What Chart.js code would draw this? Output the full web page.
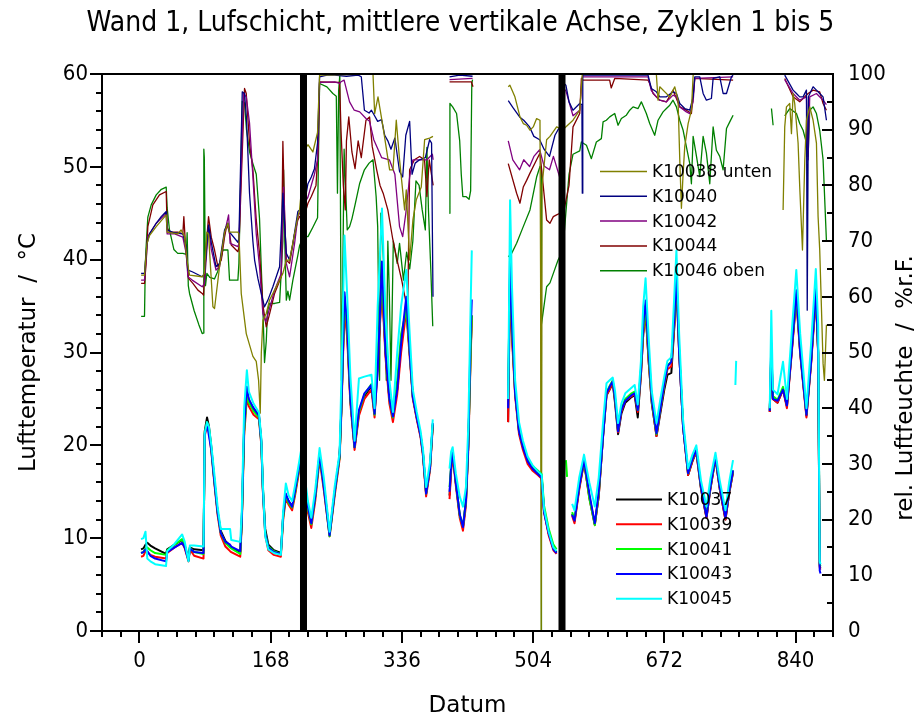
<!DOCTYPE html>
<html>
<head>
<meta charset="utf-8">
<script src="https://cdn.jsdelivr.net/npm/chart.js@4.4.1/dist/chart.umd.min.js"></script>
<style>
  html, body { margin: 0; padding: 0; background: #fff; }
  #c { display: block; }
</style>
</head>
<body>
<canvas id="c" width="921" height="721"></canvas>
<script>
// ---------------------------------------------------------------------------
// Wall 1, air layer, middle vertical axis – cycles 1 to 5
// Time axis in hours; air temperature (°C, left) and relative humidity (%, right)
// ---------------------------------------------------------------------------

const chartTitle = 'Wand 1, Lufschicht, mittlere vertikale Achse, Zyklen 1 bis 5';

// axis ticks
const hourTicks = [0, 168, 336, 504, 672, 840];
const tempTicks = [0, 10, 20, 30, 40, 50, 60];
const rhTicks = [0, 10, 20, 30, 40, 50, 60, 70, 80, 90, 100];

// cycle boundaries (hours)
const cycleBounds = [210, 541];

// ---- air temperature, shared time base (null = no data) -------------------
const tempHours = [
  2, 5, 7.7, 10, 14, 20, 34, 35.5, 45, 54.6,
  58, 62.8, 64.5, 70, 82, 83.5, 86.5, 89, 92, 96,
  100, 104, 110, 116, 117.5, 129, 131, 134, 137.5, 140,
  146, 153, 156, 158, 161, 165, 172, 181, 184, 187.4,
  191, 195.4, 199, 203, 207, 211, 215.6, 220, 225, 230.6,
  236, 243.4, 250, 256.2, 258.5, 262.5, 266, 270, 275.4, 281,
  288, 297, 301, 305, 310.5, 315, 320, 324.5, 330, 335,
  341.6, 346, 350, 355, 360, 363, 367, 372, 375.5,
  386,
  397, 399, 401, 405, 410, 414.2, 418, 421, 424, 425.5,
  428,
  472, 474.5, 477, 481, 486, 491, 497, 503, 510, 515, 518, 524, 530, 534,
  538,
  546, 547.5,
  550,
  554, 557, 563, 569.2, 576, 583, 588, 593.6, 598, 602,
  606, 609, 612.8, 617, 622, 630, 634, 638, 642, 645,
  648, 652, 656, 662, 667, 672, 676, 681, 685, 687.5,
  691, 696, 702.5, 708, 713, 719, 726, 731, 737.5, 743,
  750.3, 755, 760,
  761.5,
  763, 764,
  766,
  807, 809, 811, 817, 824, 829, 835, 841, 846, 854, 860, 866, 869, 871, 872
];

const K10037 = [
  8.8, 8.9, 9.3, 9.5, 9.2, 8.9, 8.3, 8.8, 9.3, 9.8,
  9.2, 7.7, 9.0, 8.8, 8.7, 21.5, 23.0, 22.0, 19.8, 16.2,
  12.9, 10.8, 9.7, 9.2, 9.0, 8.5, 12.0, 22.0, 25.8, 24.8,
  24.0, 23.2, 20.5, 15.5, 11.0, 9.3, 8.7, 8.4, 12.5, 14.5,
  14.0, 13.4, 14.8, 16.9, 18.8, 16.5, 13.3, 11.6, 14.5, 19.0,
  15.8, 10.5, 15.0, 18.8, 24.0, 35.5, 32.0, 25.0, 19.8, 23.5,
  25.3, 26.4, 23.4, 29.0, 37.5, 30.0, 25.0, 23.0, 26.0, 31.0,
  35.0, 30.0, 25.2, 23.0, 21.0, 19.1, 14.8, 17.6, 22.2,
  null,
  14.6, 17.5, 19.2, 16.0, 12.5, 11.2, 14.0, 20.0, 30.0, 34.0,
  null,
  22.5, 38.5, 32.0, 25.6, 21.5, 19.8, 18.3, 17.5, 17.0, 16.6, 13.0, 10.5, 8.9, 8.5,
  null,
  null, null,
  null,
  12.6, 11.8, 15.4, 18.2, 14.5, 11.5, 14.5, 21.0, 25.4, 26.0,
  26.7, 24.5, 21.2, 23.4, 24.6, 25.2, 25.4, 23.0, 27.5, 32.0,
  34.5, 29.0, 24.5, 21.0, 23.5, 26.0, 27.6, 27.8, 33.0, 37.5,
  30.0, 22.0, 16.8, 18.3, 19.3, 15.3, 12.2, 15.3, 18.6, 15.3,
  12.0, 14.8, 17.1,
  null,
  null, null,
  null,
  23.6, 30.0, 25.0, 24.6, 26.0, 24.2, 30.0, 36.0, 30.0, 23.2, 29.0, 36.2, 30.0, 7.0, 6.8
];

const K10039 = [
  8.0, 8.1, 8.6, 8.5, 8.2, 8.0, 7.8, 8.4, 9.0, 9.5,
  8.9, 7.5, 8.8, 8.1, 7.8, 21.0, 22.2, 21.5, 19.3, 15.8,
  12.5, 10.3, 9.1, 8.6, 8.5, 8.0, 11.5, 21.0, 25.2, 24.2,
  23.3, 22.8, 20.0, 15.0, 10.3, 8.7, 8.2, 8.0, 12.0, 14.3,
  13.6, 13.0, 14.5, 16.5, 18.5, 16.0, 12.8, 11.1, 14.0, 18.5,
  15.2, 10.2, 14.6, 18.5, 23.5, 35.0, 31.5, 24.5, 19.5, 23.2,
  25.0, 26.0, 23.0, 28.5, 37.0, 29.5, 24.5, 22.5, 25.5, 30.0,
  34.5, 29.5, 25.0, 22.8, 20.8, 18.8, 14.5, 17.3, 22.0,
  null,
  14.2, 17.2, 19.0, 15.7, 12.2, 10.8, 13.5, 19.5, 29.5, 33.5,
  null,
  22.5, 38.0, 31.5, 25.3, 21.2, 19.5, 18.0, 17.3, 16.8, 16.4, 12.8, 10.3, 8.7, 8.3,
  null,
  null, null,
  null,
  12.4, 11.6, 15.2, 18.2, 14.3, 11.4, 14.5, 21.0, 25.4, 26.0,
  26.8, 24.8, 21.4, 23.6, 24.8, 25.3, 25.5, 23.6, 27.5, 32.0,
  34.5, 29.0, 24.6, 21.0, 23.8, 26.4, 28.2, 28.5, 33.2, 37.8,
  30.0, 22.0, 16.8, 18.3, 19.3, 15.3, 12.2, 15.3, 18.6, 15.3,
  12.0, 14.8, 17.1,
  null,
  null, null,
  null,
  23.6, 30.0, 25.0, 24.6, 26.0, 24.0, 29.8, 35.8, 29.8, 23.0, 28.8, 36.0, 29.8, 6.8, 6.6
];

const K10041 = [
  8.4, 8.5, 8.9, 9.0, 8.7, 8.4, 8.2, 8.7, 9.3, 9.9,
  9.2, 7.6, 9.0, 8.5, 8.3, 21.3, 22.5, 21.8, 19.6, 16.0,
  12.8, 10.6, 9.5, 9.0, 8.9, 8.3, 11.8, 21.5, 25.6, 24.6,
  23.7, 23.0, 20.2, 15.3, 10.6, 9.1, 8.6, 8.3, 12.3, 14.6,
  13.8, 13.3, 14.8, 16.8, 18.7, 16.3, 13.2, 11.5, 14.4, 18.8,
  15.6, 10.2, 14.9, 18.7, 23.8, 36.0, 32.5, 25.0, 19.8, 23.6,
  25.5, 26.6, 23.3, 29.5, 38.0, 30.5, 25.0, 23.0, 27.0, 32.0,
  34.6, 30.0, 25.3, 23.1, 21.1, 19.2, 14.8, 17.6, 22.3,
  null,
  15.5, 17.8, 19.3, 16.1, 12.5, 11.3, 14.0, 20.0, 30.0, 34.0,
  null,
  25.6, 39.0, 32.5, 25.8, 21.6, 19.9, 18.5, 17.8, 17.3, 16.9, 13.5, 11.0, 9.3, 8.8,
  null,
  18.4, 16.6,
  null,
  12.8, 12.0, 15.6, 18.4, 14.3, 11.4, 14.8, 21.2, 25.7, 26.4,
  27.0, 25.0, 21.6, 23.9, 25.0, 25.6, 25.8, 23.8, 28.0, 32.5,
  35.0, 29.5, 24.8, 21.2, 24.0, 26.6, 28.6, 29.0, 33.8, 38.2,
  30.5, 22.3, 17.0, 18.5, 19.5, 15.5, 12.5, 15.5, 18.8, 15.5,
  12.5, 15.0, 17.3,
  null,
  null, null,
  null,
  23.8, 30.5, 25.3, 24.9, 26.3, 24.4, 30.3, 36.2, 30.2, 23.4, 29.2, 36.5, 30.2, 7.2, 7.0
];

const K10043 = [
  8.4, 8.5, 8.8, 8.6, 8.1, 7.8, 7.5, 8.5, 9.0, 9.5,
  9.0, 7.6, 8.9, 8.5, 8.4, 21.2, 22.3, 21.0, 19.5, 16.0,
  12.8, 10.6, 9.6, 9.3, 9.1, 8.6, 12.0, 22.0, 26.3, 25.0,
  24.0, 23.2, 20.3, 15.2, 10.5, 9.0, 8.5, 8.3, 12.5, 14.8,
  14.0, 13.4, 15.0, 17.0, 18.9, 16.2, 13.4, 11.6, 14.5, 19.1,
  15.5, 10.3, 15.0, 18.9, 24.0, 36.5, 33.0, 25.0, 19.8, 23.8,
  25.6, 26.5, 23.4, 28.0, 39.8, 30.0, 25.0, 23.1, 26.0, 31.0,
  36.0, 30.0, 25.2, 23.0, 21.0, 19.1, 14.8, 17.6, 22.4,
  null,
  15.0, 17.8, 19.3, 16.0, 12.6, 11.2, 14.0, 20.0, 32.0, 35.7,
  null,
  24.0, 40.7, 33.0, 25.6, 21.5, 19.8, 18.3, 17.5, 16.9, 16.5, 12.8, 10.5, 8.8, 8.4,
  null,
  null, null,
  null,
  12.5, 11.9, 15.5, 18.4, 14.8, 11.6, 15.0, 21.0, 25.6, 26.3,
  26.9, 25.0, 21.5, 23.8, 24.8, 25.4, 25.6, 23.8, 28.0, 33.0,
  35.6, 30.0, 25.0, 21.3, 24.0, 26.7, 28.5, 29.0, 34.0, 38.6,
  30.0, 22.0, 17.0, 18.5, 19.5, 15.5, 12.3, 15.5, 18.8, 15.5,
  12.2, 15.0, 17.3,
  null,
  null, null,
  null,
  23.7, 31.0, 25.0, 24.8, 26.0, 24.3, 30.0, 36.7, 30.0, 23.3, 29.0, 36.9, 30.0, 6.5, 6.2
];

const K10045 = [
  9.9, 10.0, 10.7, 7.8, 7.5, 7.2, 7.0, 8.6, 9.4, 10.4,
  9.6, 7.5, 9.2, 9.2, 9.1, 21.3, 22.5, 22.0, 20.0, 16.8,
  13.4, 11.0, 11.0, 11.0, 9.8, 9.6, 13.0, 24.0, 28.1, 25.8,
  24.5, 23.5, 20.8, 15.8, 10.2, 8.8, 8.4, 8.2, 13.0, 15.9,
  14.6, 14.0, 15.6, 17.5, 19.5, 17.0, 14.0, 12.2, 15.2, 19.7,
  16.5, 10.7, 15.6, 19.2, 27.0, 42.6, 36.0, 27.5, 20.5, 27.2,
  27.4, 27.6, 24.0, 35.0, 45.5, 34.0, 27.0, 23.6, 30.0, 35.0,
  38.9, 32.0, 26.0, 23.6, 21.5, 19.6, 15.5, 18.2, 22.8,
  null,
  17.5, 19.3, 19.8, 17.0, 14.5, 13.4, 15.5, 22.0, 35.0, 41.0,
  null,
  25.0, 46.4, 37.0, 27.0, 22.5, 20.5, 18.8, 17.9, 17.2, 16.8, 13.2, 10.7, 9.0, 8.6,
  null,
  null, null,
  null,
  13.7, 13.0, 16.5, 19.0, 16.0, 13.4, 16.5, 22.5, 26.7, 27.0,
  27.3, 25.8, 22.4, 24.5, 25.6, 26.2, 26.5, 24.4, 29.0, 35.0,
  38.0, 31.5, 25.8, 22.4, 25.0, 27.4, 29.1, 29.5, 36.5, 41.0,
  32.0, 22.8, 17.5, 19.0, 20.0, 16.2, 13.4, 16.4, 19.2, 16.2,
  13.0, 16.0, 18.4,
  null,
  26.5, 29.1,
  null,
  24.0, 34.5, 26.0, 25.5, 29.0, 25.0, 32.0, 38.9, 32.0, 24.0, 31.0, 39.0, 33.0, 7.5, 7.2
];

// ---- relative humidity, [hour, %r.F.] (null = no data) ---------------------
const K10038 = [
  [2.1,63.9],[6.4,63.9],[9.5,69.5],[12.8,71.0],[21.4,72.6],[34.2,74.7],[35.4,71.6],[49.1,71.3],[53.3,72.0],[57.6,70.8],
  [61.5,66.0],[64.1,63.9],[80.3,63.6],[83.2,64.2],[86.3,71.6],[88.4,71.3],[94,58.2],[96.1,57.9],[102.5,65.4],[108.9,71.6],
  [113.2,73.2],[115.3,71.6],[126,71.6],[127.3,71.3],[130.3,60.6],[136.7,53.4],[145.2,49.3],[149.5,48.4],[152.5,45.0],[154.6,39.1],
  [156,50.0],[158,55.8],[162.3,57.0],[166.5,59.4],[175.1,61.8],[183.6,64.2],[188,66.6],[192.2,66.6],[198.6,71.3],[202.8,74.4],[205,75.6],
  [212,86.5],[215.7,87.3],[222,86.0],[228,89.5],[230.6,99.8],[299,100],[301.1,92.9],[305.4,95.9],[311.8,90.5],[320.3,82.8],
  [324.6,82.8],[328.8,91.7],[333,84.6],[339.5,75.6],[341.6,79.2],[345.9,66.6],[350.1,73.8],[354.4,77.4],[360.8,79.7],[365.1,88.2],
  [371.5,88.5],[375.8,88.8],
  [386,null],
  [397,100],[427,100],
  [440,null],
  [472.2,97.7],[474.3,98.0],[480.7,95.9],[487.2,92.3],[491.4,91.1],[495.7,90.8],[500,89.9],[504.2,90.5],[508.5,92.0],[512.8,91.7],
  [513.6,63.0],[514.4,0],[514.7,0],[515.5,80.0],[521.3,88.2],[525.6,88.8],[534.1,90.5],[542,90.0],[555.1,91.7],[563.7,93.5],
  [567,100],[661.8,100],[664,95.3],[666.2,97.7],[679,95.9],[685.4,97.7],[689.6,95.3],[691.8,84.6],[693.9,75.9],[696.1,82.2],
  [698.2,87.0],[702.5,91.1],[706.7,93.5],[709,100],[760.1,100],
  [790,null],
  [824.1,75.6],[826.2,90.5],[828.4,94.1],[832.6,94.7],[834.8,89.3],[836.9,96.5],[839,94.7],[843.3,87.6],[845.4,79.7],[847.6,72.6],
  [848.9,68.4],[851.9,84.6],[854,91.7],[858.2,94.1],[862.5,91.7],[866.8,87.6],[868.9,74.4],[871,68.4],[875.3,48.0],[877,45.0],[879.6,55.0]
];

const K10040 = [
  [2.1,64.2],[6.4,64.2],[9.5,69.5],[12.8,71.3],[21.4,73.2],[27.8,74.4],[34.2,75.3],[35.4,72.0],[44,71.5],[55.5,71.3],
  [59.8,69.0],[62,64.8],[67.5,64.5],[80.3,63.6],[83.2,64.2],[88.4,72.9],[91.9,69.8],[98,65.4],[102.5,66.0],[109,72.0],
  [113.2,73.2],[115.3,71.6],[126,69.8],[127.3,70.5],[131.6,96.8],[134.5,96.5],[137,92.0],[140.9,78.6],[145.2,70.0],[147.4,66.6],
  [151.6,63.3],[155.9,60.6],[160.1,58.2],[164.4,59.4],[170.8,61.8],[179.4,65.4],[183.6,78.6],[188,67.8],[192.2,66.6],[196.4,69.6],
  [202.8,75.3],[205,75.6],
  [212,77.5],[215.7,80.3],[220,81.5],[224,83.0],[228,87.6],[230.6,99.5],[240,99.8],[250,99.8],[265,99.6],[280,99.8],
  [284,99.5],[288,93.5],[294,93.0],[297,93.5],[301,92.5],[305,91.5],[310,91.8],[314,89.0],[318,88.0],[322,86.5],
  [327,88.5],[333,82.5],[337,81.5],[341,89.0],[345.9,91.5],[349,82.0],[353,84.0],[358.7,84.6],[366,85.0],[371.5,88.2],
  [374,87.6],[375.8,60.0],
  [386,null],
  [397,99.5],[410,99.8],[426.5,99.6],
  [440,null],
  [472.2,95.2],[478,94.0],[486.7,92.3],[492,91.7],[499.5,90.5],[505,88.8],[512.4,88.2],[518,86.5],[525,85.2],[532,89.0],
  [538,90.5],[542,98.5],[546,98.0],[550,95.0],[555.1,93.5],[563.7,94.7],[566.5,94.5],[567,78.6],[567.6,99.8],[651.2,99.8],
  [655.4,97.4],[661.8,96.8],[666.2,95.9],[674.7,95.9],[683.2,96.8],[687.5,96.5],[691.8,94.7],[698.2,93.8],[704.6,93.5],[708.9,95.9],
  [711,99.5],[717.4,99.5],[721.7,96.5],[725.9,95.3],[732.3,95.6],[734.5,99.2],[743,99.5],[747.3,96.5],[751.6,96.5],[758,99.5],
  [760.1,99.8],
  [790,null],
  [826.2,99.8],[836.9,97.1],[841.2,96.5],[845.4,95.9],[849.7,95.9],[854,97.1],[855,57.6],[855.6,57.6],[856.5,95.9],[862.5,97.7],
  [866.8,97.1],[871,96.5],[875.3,95.9],[879.6,91.7]
];

const K10042 = [
  [2.1,63.0],[6.4,63.0],[10.7,70.8],[21.4,73.2],[34.2,75.0],[35.4,71.3],[45,71.3],[55.5,70.7],[59.8,67.8],[62,63.6],
  [67.5,63.0],[80.3,61.8],[83.2,62.4],[88.4,72.6],[91.9,68.5],[98,64.8],[102.5,65.4],[109,71.5],[114.1,74.7],[116,69.6],
  [126,69.0],[127.3,69.6],[133.3,96.5],[136.7,95.9],[140.9,91.2],[145.2,81.6],[149.5,71.3],[153.7,65.4],[158,57.0],[161.8,55.5],
  [166.5,57.9],[173,61.2],[181.5,64.2],[184.5,79.7],[188,66.0],[192.2,63.6],[198.6,69.6],[202.8,74.4],[205,75.0],
  [212,77.0],[215.7,77.9],[224,82.0],[228,84.6],[230.6,98.5],[250,98.6],[256.2,98.3],[258,98.6],[262,98.9],[269,95.0],
  [275,93.5],[282,93.2],[290,92.0],[294.6,91.5],[300,88.2],[310,85.0],[320,84.6],[327,82.0],[333,72.6],[337,70.8],
  [341,75.0],[345.9,81.5],[350,84.6],[360,84.6],[368,84.6],[375,85.6],[376,84.6],
  [386,null],
  [397,99.0],[426.5,99.2],
  [440,null],
  [472.2,88.0],[478,84.6],[486.7,82.8],[492,84.6],[499.5,83.4],[505,85.2],[512.4,86.4],[518,83.5],[525,82.8],[530,85.2],
  [538,81.5],[542,97.5],[546,97.0],[555.1,92.5],[563.7,93.5],[567,99.5],[651.2,99.5],[655.4,97.0],[661.8,95.9],[666.2,95.3],
  [674.7,95.0],[683.2,96.2],[687.5,95.9],[691.8,94.1],[700.3,93.2],[704.6,92.9],[708.9,95.0],[711,99.2],[760.1,99.5],
  [790,null],
  [826.2,99.0],[836.9,96.5],[845.4,95.3],[854,95.9],[856.1,84.6],[858.2,95.9],[866.8,96.5],[875.3,95.3],[879.6,94.5]
];

const K10044 = [
  [2.1,62.4],[6.4,62.4],[8.5,66.0],[10.7,72.6],[17.1,76.5],[25.6,78.3],[34.2,78.9],[35.4,72.5],[38.4,71.6],[49.1,71.6],
  [55.5,71.3],[56.8,74.4],[59,69.0],[62.8,63.3],[68.4,62.4],[74.8,61.2],[80.3,60.6],[82,60.3],[85.4,69.0],[88.4,74.4],
  [91.9,70.7],[96.1,68.4],[100.4,65.4],[104.7,66.6],[108.9,70.7],[111.9,72.9],[114.5,72.0],[117.5,69.3],[126,68.1],[127.3,68.9],
  [134.5,97.4],[136.7,96.5],[140.9,87.6],[145.2,82.8],[149.5,73.8],[153.7,67.8],[158,58.5],[162.3,54.6],[166.5,56.9],[173,60.6],
  [181.5,63.6],[183.6,87.9],[186,73.8],[188,66.6],[192.2,66.0],[198.6,71.3],[202.8,73.8],[205,74.4],
  [212,75.0],[215.7,76.8],[220,78.0],[226,80.0],[229,87.0],[230.6,98.6],[256.2,98.5],[258,90.0],[261,80.0],[263.5,75.6],
  [265,88.0],[268,92.3],[272,86.0],[276,83.0],[280,88.0],[284,85.0],[290,91.7],[294.6,92.3],[298,87.0],[303.7,82.8],
  [308,80.0],[312,78.6],[318,75.6],[324,70.6],[330,66.5],[336,62.8],[343.4,57.4],[345.9,82.8],[352,84.6],[358.7,85.2],
  [365,84.6],[368,78.0],[371,84.6],[376,80.0],
  [386,null],
  [397,98.6],[425,98.6],[427,97.7],
  [440,null],
  [472.2,83.9],[482.9,78.6],[487.2,76.8],[491.4,79.7],[495.7,80.9],[500,82.2],[508.5,84.6],[512.8,85.8],[521.3,73.8],[525.6,73.2],
  [529.9,74.4],[534.1,74.7],[538.4,75.0],[542,74.5],[550,80.0],[555.1,90.5],[563.7,92.9],[565.8,99.2],[568,98.9],[602,98.9],
  [604,97.5],[608.5,99.2],[651.2,98.9],[653.3,98.3],[657.6,96.5],[666.2,95.3],[674.7,95.0],[683.2,97.1],[691.8,94.1],[700.3,93.5],
  [706.7,92.9],[711,99.2],[760.1,98.9],
  [790,null],
  [826.2,99.2],[836.9,95.9],[845.4,95.0],[851.9,95.9],[856.1,96.5],[862.5,97.1],[871,96.8],[875.3,94.7],[879.6,93.5]
];

const K10046 = [
  [2.1,56.5],[6.4,56.5],[7.5,66.0],[8.5,69.0],[10.7,74.3],[15,76.5],[21.4,78.3],[28,79.3],[34.2,79.7],[35.4,76.0],
  [38.4,72.0],[44,68.5],[49,67.8],[55.5,67.8],[60,67.6],[61,71.5],[62.5,62.0],[64.1,60.6],[70,57.5],[76,55.0],
  [80.3,53.4],[82,53.5],[82.4,86.5],[83,85.0],[84.5,62.0],[86.3,64.2],[90,63.5],[96,63.2],[100,64.5],[103,66.0],
  [106.8,68.4],[113.2,68.4],[115.3,63.0],[126,63.0],[127.3,66.0],[131.6,95.1],[134.5,94.8],[137,90.0],[141,86.0],[145,84.0],
  [149.5,82.0],[153.7,74.0],[156,65.0],[158,58.0],[160.1,48.2],[162.3,52.0],[164,57.5],[166.5,58.8],[173,58.8],[179.4,59.0],
  [183.6,70.0],[184.5,82.8],[186,70.0],[188,59.4],[190,61.0],[192.2,59.4],[196.4,63.0],[202.8,67.5],[205,69.2],[207.5,70.0],
  [212,70.8],[215.7,70.8],[222,72.5],[228,74.2],[230.6,98.3],[240,97.7],[247.6,96.5],[252,96.0],[253.5,78.6],[255,97.0],
  [256.5,99.8],[258.5,45.0],[260,60.0],[262,86.5],[266,72.0],[269,72.6],[272,74.0],[276,76.5],[282,80.4],[288,82.8],
  [294,84.0],[299,84.6],[303,78.0],[305,72.6],[307.4,45.0],[309,75.0],[313,65.0],[316,45.0],[318,70.0],[320,60.0],
  [322,45.0],[325,70.0],[330,66.0],[333,69.6],[338,63.0],[342,68.0],[346,65.0],[350,70.0],[354,80.8],[358,80.0],
  [362,75.6],[366,72.0],[368,86.8],[370,75.6],[373,65.0],[375.5,54.7],
  [386,null],
  [396.8,75.0],[397.5,94.7],[401,94.1],[406,92.9],[410,88.0],[412,82.0],[414,78.0],[418,78.0],[422,77.5],[424,79.0],
  [425.5,98.3],[426.5,99.0],
  [440,null],
  [472.2,67.2],[476.5,67.8],[482.9,69.6],[491.4,72.6],[500,75.6],[508.5,81.5],[512.8,83.4],[514.2,83.0],[514.4,0],[514.7,0],
  [515,55.0],[521.3,61.8],[525.6,62.5],[529.9,64.2],[536,66.6],[541,68.0],[543,70.0],[550,82.0],[555.1,85.6],[563.7,86.2],
  [565.8,87.8],[572.3,87.2],[578.6,84.8],[585,87.8],[591.4,88.4],[593.6,91.4],[597.8,91.7],[602.1,92.3],[608.5,92.9],[612.8,90.8],
  [617,92.0],[623.4,92.6],[627.7,93.5],[632,94.1],[638.4,93.8],[642.6,95.0],[649,92.9],[653.3,91.1],[659.7,89.0],[664,91.7],
  [670.4,93.2],[674.7,93.8],[679,94.4],[683.2,95.3],[687.5,94.1],[691.8,91.7],[696.1,89.9],[700.3,86.9],[704.6,83.9],[706.7,80.3],
  [708.9,88.8],[713.2,85.2],[717.4,81.6],[721.7,88.8],[725.9,85.8],[730.2,80.3],[734.5,90.5],[738.7,86.3],[743,85.2],[747.3,82.8],
  [751.6,90.2],[755.8,91.4],[760.1,92.6],
  [790,null],
  [809.2,93.8],[811.3,90.8],
  [818,null],
  [826.2,92.5],[832.6,93.8],[841.2,92.9],[845.4,91.1],[849.7,89.9],[854,87.6],[856.1,85.2],[858.2,93.5],[862.5,94.1],[866.8,92.9],
  [871,89.9],[875.3,84.6],[879.6,70.0]
];

// ---------------------------------------------------------------------------
const narrowFont = "'Liberation Sans Narrow', 'DejaVu Sans Condensed', 'Liberation Sans', sans-serif";
const textFont = "'DejaVu Sans', 'Liberation Sans', sans-serif";

const tempSeries = [
  { label: 'K10037', values: K10037, color: '#000000', order: 5 },
  { label: 'K10039', values: K10039, color: '#ff0000', order: 4 },
  { label: 'K10041', values: K10041, color: '#00ff00', order: 3 },
  { label: 'K10043', values: K10043, color: '#0000ff', order: 2 },
  { label: 'K10045', values: K10045, color: '#00ffff', order: 1 }
];
const rhSeries = [
  { label: 'K10038 unten', values: K10038, color: '#808000', order: 6 },
  { label: 'K10040',       values: K10040, color: '#000080', order: 7 },
  { label: 'K10042',       values: K10042, color: '#800080', order: 8 },
  { label: 'K10044',       values: K10044, color: '#800000', order: 9 },
  { label: 'K10046 oben',  values: K10046, color: '#008000', order: 10 }
];

const datasets = [];
cycleBounds.forEach(h => datasets.push({
  label: 'cycle', group: 'mark',
  data: [{ x: h, y: 0 }, { x: h, y: 60 }],
  yAxisID: 'yT', borderColor: '#000', borderWidth: 7, borderCapStyle: 'butt',
  pointRadius: 0, order: 0
}));
tempSeries.forEach(s => datasets.push({
  label: s.label, group: 'temp',
  data: tempHours.map((h, i) => ({ x: h, y: s.values[i] })),
  yAxisID: 'yT', borderColor: s.color, borderWidth: 2,
  pointRadius: 0, tension: 0, spanGaps: false, order: s.order, borderJoinStyle: 'round'
}));
rhSeries.forEach(s => datasets.push({
  label: s.label, group: 'rh',
  data: s.values.map(([h, v]) => ({ x: h, y: v })),
  yAxisID: 'yH', borderColor: s.color, borderWidth: 1.3,
  pointRadius: 0, tension: 0, spanGaps: false, order: s.order, borderJoinStyle: 'round'
}));

// frame, inner/outer tick marks, two legends and the right axis title
const decorations = {
  id: 'decorations',
  afterDatasetsDraw(chart) {
    const { ctx, chartArea: a, scales } = chart;
    const x = scales.x, yT = scales.yT, yH = scales.yH;
    ctx.save();
    ctx.strokeStyle = '#000';
    ctx.lineWidth = 2;
    ctx.lineCap = 'butt';
    ctx.strokeRect(a.left, a.top, a.right - a.left, a.bottom - a.top);

    ctx.beginPath();
    for (let h = x.min; h <= x.max + 0.01; h += 24) {
      const px = Math.round(x.getPixelForValue(h));
      const len = hourTicks.includes(h) ? 12 : 6;
      ctx.moveTo(px, a.bottom); ctx.lineTo(px, a.bottom + len);
    }
    for (let v = 0; v <= 60; v += 2) {
      const py = Math.round(yT.getPixelForValue(v));
      const len = v % 10 === 0 ? 12 : 6;
      ctx.moveTo(a.left, py); ctx.lineTo(a.left - len, py);
    }
    for (let v = 0; v <= 100; v += 5) {
      const py = Math.round(yH.getPixelForValue(v));
      const len = v % 10 === 0 ? 11 : 6;
      ctx.moveTo(a.right, py); ctx.lineTo(a.right - len, py);
    }
    ctx.stroke();

    // legends
    const drawLegend = (group, lineX0, lineX1, textX, y0, dy) => {
      const items = chart.data.datasets.filter(d => d.group === group);
      ctx.font = '17px ' + textFont;
      ctx.textAlign = 'left';
      ctx.textBaseline = 'middle';
      items.forEach((d, i) => {
        const y = y0 + i * dy;
        ctx.strokeStyle = d.borderColor;
        ctx.lineWidth = group === 'temp' ? 2 : 1.5;
        ctx.beginPath(); ctx.moveTo(lineX0, y); ctx.lineTo(lineX1, y); ctx.stroke();
        ctx.fillStyle = '#000';
        ctx.fillText(d.label, textX, y + 1);
      });
    };
    drawLegend('rh', 600, 647, 652, 171.5, 24.8);
    drawLegend('temp', 616, 662, 667, 499.5, 24.8);

    // right axis title, reading bottom to top
    ctx.save();
    ctx.translate(906, 388);
    ctx.rotate(-Math.PI / 2);
    ctx.font = '23px ' + textFont;
    ctx.fillStyle = '#000';
    ctx.textAlign = 'center';
    ctx.textBaseline = 'middle';
    ctx.fillText('rel. Luftfeuchte  /  %r.F.', 0, 0);
    ctx.restore();

    ctx.restore();
  }
};

new Chart(document.getElementById('c'), {
  type: 'line',
  data: { datasets },
  options: {
    responsive: false,
    animation: false,
    events: [],
    layout: { padding: 0 },
    plugins: {
      legend: { display: false },
      tooltip: { enabled: false },
      title: {
        display: true, text: chartTitle, color: '#000',
        font: { family: narrowFont, size: 28, weight: 'normal', lineHeight: 1.2 },
        padding: { top: 7, bottom: 33.4 }
      }
    },
    scales: {
      x: {
        type: 'linear', position: 'bottom', min: -48, max: 888,
        grid: { display: false, drawTicks: false }, border: { display: false },
        afterBuildTicks: s => { s.ticks = hourTicks.map(v => ({ value: v })); },
        afterFit: s => { s.height = 90; },
        ticks: { color: '#000', padding: 17, autoSkip: false, maxRotation: 0,
                 font: { family: narrowFont, size: 22 }, callback: v => String(v) },
        title: { display: true, text: 'Datum', color: '#000',
                 font: { family: textFont, size: 23 }, padding: { top: 0, bottom: 1 } }
      },
      yT: {
        type: 'linear', position: 'left', min: 0, max: 60,
        grid: { display: false, drawTicks: false }, border: { display: false },
        afterBuildTicks: s => { s.ticks = tempTicks.map(v => ({ value: v })); },
        afterFit: s => { s.width = 102; },
        ticks: { color: '#000', padding: 14, font: { family: narrowFont, size: 22 }, callback: v => String(v) },
        title: { display: true, text: 'Lufttemperatur  /  °C', color: '#000',
                 font: { family: textFont, size: 23 }, padding: { top: 15, bottom: 0 } }
      },
      yH: {
        type: 'linear', position: 'right', min: 0, max: 100,
        grid: { display: false, drawTicks: false }, border: { display: false },
        afterBuildTicks: s => { s.ticks = rhTicks.map(v => ({ value: v })); },
        afterFit: s => { s.width = 88; },
        ticks: { color: '#000', padding: 15, font: { family: narrowFont, size: 22 }, callback: v => String(v) }
      }
    }
  },
  plugins: [decorations]
});
</script>
</body>
</html>
